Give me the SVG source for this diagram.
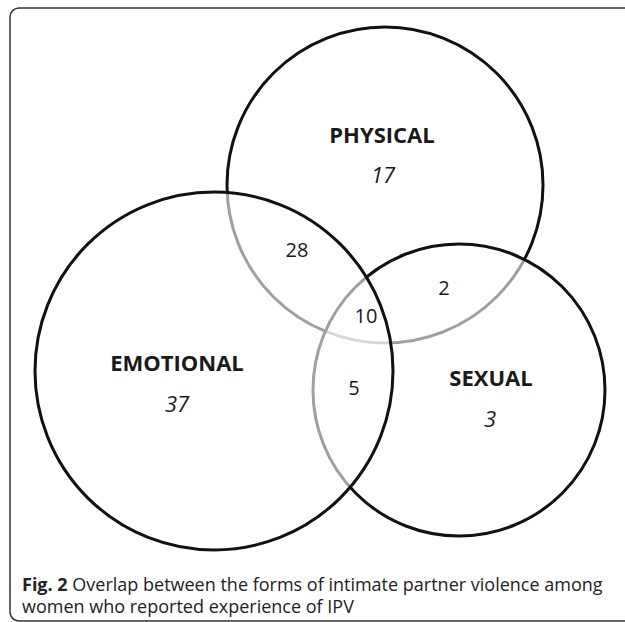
<svg xmlns="http://www.w3.org/2000/svg" width="625" height="622" viewBox="0 0 625 622">
<style>
.set{fill:#fff;fill-opacity:0.6;stroke:#111;stroke-width:3}
.lbl{font-family:"Open Sans","Liberation Sans",sans-serif;font-weight:bold;font-size:22px;fill:#1a1a1a;text-anchor:middle}
.tot{font-family:"Open Sans","Liberation Sans",sans-serif;font-style:italic;font-size:22px;fill:#1a1a1a;text-anchor:middle}
.num{font-family:"Open Sans","Liberation Sans",sans-serif;font-size:20px;fill:#1a1a1a;text-anchor:middle}
.cap{font-family:"Open Sans","Liberation Sans",sans-serif;font-size:18px;fill:#222}
</style>
<rect x="0" y="0" width="625" height="622" fill="#fff"/>
<rect x="10" y="8" width="650" height="613" rx="9" fill="none" stroke="#333" stroke-width="1.5"/>
<g id="physical">
<circle class="set" cx="385" cy="185" r="158"/>
</g>
<g id="sexual">
<circle class="set" cx="459" cy="390" r="146"/>
</g>
<g id="emotional">
<circle class="set" cx="214" cy="371" r="179"/>
</g>
<g id="labels">
<text class="lbl" x="382" y="143">PHYSICAL</text>
<text class="tot" x="383" y="183">17</text>
<text class="lbl" x="177" y="371">EMOTIONAL</text>
<text class="tot" x="177" y="412">37</text>
<text class="lbl" x="491" y="386">SEXUAL</text>
<text class="tot" x="490" y="427">3</text>
<text class="num" x="297" y="257">28</text>
<text class="num" x="366" y="323">10</text>
<text class="num" x="444" y="295">2</text>
<text class="num" x="354" y="395">5</text>
</g>
<g id="caption">
<text class="cap" x="22" y="591"><tspan font-weight="bold">Fig. 2</tspan> Overlap between the forms of intimate partner violence among</text>
<text class="cap" x="22" y="613">women who reported experience of IPV</text>
</g>
</svg>
